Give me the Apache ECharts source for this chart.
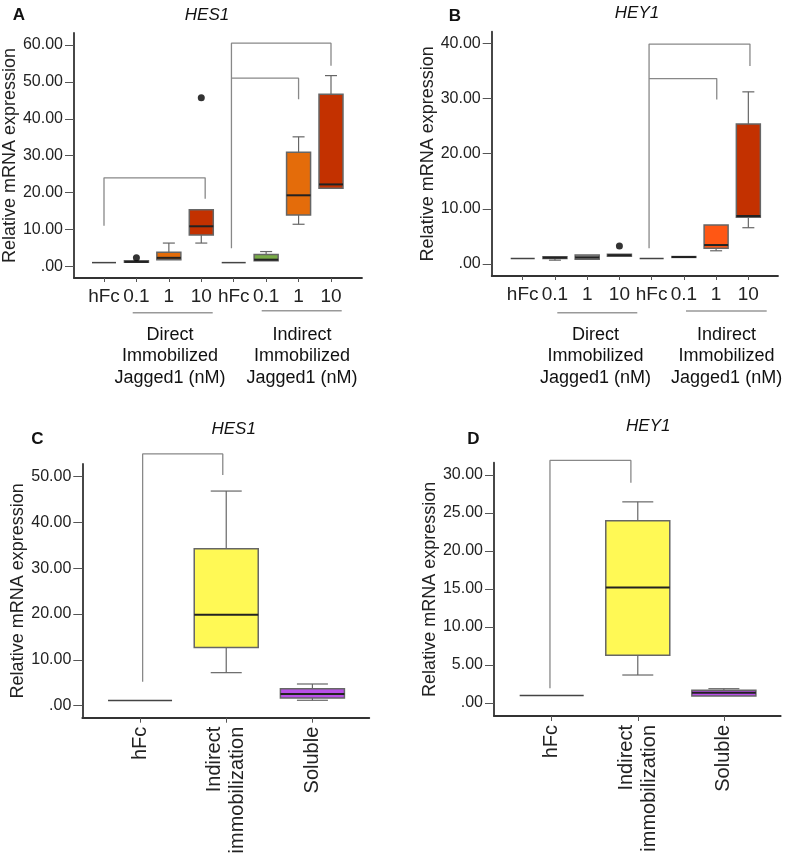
<!DOCTYPE html>
<html>
<head>
<meta charset="utf-8">
<script src="https://cdn.jsdelivr.net/npm/echarts@6/dist/echarts.min.js"></script>
<style>
html,body{margin:0;padding:0;background:#fff;}
#chart{width:787px;height:858px;}
</style>
</head>
<body>
<div id="chart"></div>
<script>
// ---------- DATA ----------
const catsAB = ['hFc', '0.1', '1', '10', 'hFc', '0.1', '1', '10'];
const catsCD = ['hFc', 'Indirect\nimmobilization', 'Soluble'];

// five-number summaries: [min, q1, median, q3, max]
const hes1A = [
  [1, 1, 1, 1, 1],
  [1.1, 1.1, 1.2, 1.5, 1.5],
  [1.8, 1.8, 2.3, 3.8, 6.3],
  [6.3, 8.5, 10.85, 15.35, 15.35],
  [1, 1, 1, 1, 1],
  [1.5, 1.5, 1.8, 3.2, 4.0],
  [11.4, 13.9, 19.25, 30.9, 35.1],
  [21.15, 21.15, 22.2, 46.65, 51.7]
];
const hey1B = [
  [1, 1, 1, 1, 1],
  [0.7, 1.0, 1.15, 1.3, 1.3],
  [0.85, 0.85, 1.2, 1.63, 1.63],
  [1.4, 1.4, 1.6, 1.75, 1.75],
  [1, 1, 1, 1, 1],
  [1.2, 1.2, 1.27, 1.35, 1.35],
  [2.4, 2.84, 3.44, 7.07, 7.07],
  [6.58, 8.46, 8.7, 25.36, 31.2]
];
const hes1C = [
  [1.15, 1.15, 1.15, 1.15, 1.15],
  [7.2, 12.7, 19.85, 34.2, 46.8],
  [1.18, 1.68, 2.55, 3.7, 4.73]
];
const hey1D = [
  [1, 1, 1, 1, 1],
  [3.68, 6.27, 15.2, 23.95, 26.45],
  [0.92, 0.92, 1.36, 1.67, 1.88]
];

// outliers: [category index, value]
const outliersA = [[1, 2.35], [3, 45.7]];
const outliersB = [[3, 3.26]];

// significance brackets: list of polyline points [category position, value]
const bracketsA = [
  [[0, 11.0], [0, 24.0], [3.12, 24.0], [3.12, 18.3]],
  [[3.93, 4.9], [3.93, 60.5], [7.0, 60.5], [7.0, 54.4]],
  [[3.93, 51.0], [6.0, 51.0], [6.0, 45.3]]
];
const bracketsB = [
  [[3.92, 2.84], [3.92, 39.85], [7.05, 39.85], [7.05, 35.9]],
  [[3.92, 33.6], [6.02, 33.6], [6.02, 29.8]]
];
const bracketsC = [
  [[0.03, 5.24], [0.03, 54.9], [0.96, 54.9], [0.96, 50.3]]
];
const bracketsD = [
  [[-0.02, 1.93], [-0.02, 31.9], [0.92, 31.9], [0.92, 28.95]]
];

// tick values
const yTicksA = [0, 10, 20, 30, 40, 50, 60];
const yTicksB = [0, 10, 20, 30, 40];
const yTicksC = [0, 10, 20, 30, 40, 50];
const yTicksD = [0, 5, 10, 15, 20, 25, 30];

// ---------- STYLE ----------
const colorsA = ['#555', '#888', '#E46C0A', '#C33100', '#555', '#78AB46', '#E46C0A', '#C33100'];
const colorsB = ['#555', '#999', '#999', '#999', '#555', '#999', '#FF5714', '#C33100'];
const colorsCD = ['#555', '#FFF955', '#B94FE8'];
const FONT = '"Liberation Sans", Arial, Helvetica, sans-serif';

function boxRender(colors, boxW, capW) {
  return function (params, api) {
    const x = api.value(0);
    const vmin = api.value(1), q1 = api.value(2), med = api.value(3), q3 = api.value(4), vmax = api.value(5);
    const pMin = api.coord([x, vmin]);
    const pQ1 = api.coord([x, q1]);
    const pMed = api.coord([x, med]);
    const pQ3 = api.coord([x, q3]);
    const pMax = api.coord([x, vmax]);
    const cx = pMed[0];
    const children = [];
    const wStyle = { stroke: '#666', lineWidth: 1.2 };
    if (vmax > q3) {
      children.push({ type: 'line', shape: { x1: cx, y1: pQ3[1], x2: cx, y2: pMax[1] }, style: wStyle });
      children.push({ type: 'line', shape: { x1: cx - capW / 2, y1: pMax[1], x2: cx + capW / 2, y2: pMax[1] }, style: wStyle });
    }
    if (vmin < q1) {
      children.push({ type: 'line', shape: { x1: cx, y1: pQ1[1], x2: cx, y2: pMin[1] }, style: wStyle });
      children.push({ type: 'line', shape: { x1: cx - capW / 2, y1: pMin[1], x2: cx + capW / 2, y2: pMin[1] }, style: wStyle });
    }
    const col = colors[params.dataIndex];
    if (q3 > q1) {
      children.push({
        type: 'rect',
        shape: { x: cx - boxW / 2, y: pQ3[1], width: boxW, height: pQ1[1] - pQ3[1] },
        style: { fill: col, stroke: '#666', lineWidth: 1.5 }
      });
      children.push({ type: 'line', shape: { x1: cx - boxW / 2, y1: pMed[1], x2: cx + boxW / 2, y2: pMed[1] }, style: { stroke: '#222', lineWidth: 2 } });
    } else {
      children.push({ type: 'line', shape: { x1: cx - boxW / 2, y1: pMed[1], x2: cx + boxW / 2, y2: pMed[1] }, style: { stroke: '#444', lineWidth: 1.5 } });
    }
    return { type: 'group', children: children };
  };
}

function toBoxData(arr) {
  return arr.map(function (d, i) { return [i].concat(d); });
}

function fmtY(v) { return v === 0 ? '.00' : v.toFixed(2); }

function yAxisDef(gi, min, max, ticks, nameGap) {
  return {
    type: 'value', gridIndex: gi, min: min, max: max,
    name: 'Relative mRNA expression', nameLocation: 'middle', nameRotate: 90, nameGap: nameGap,
    nameTextStyle: { fontFamily: FONT, fontSize: 18, color: '#222' },
    splitLine: { show: false },
    axisLine: { show: true, onZero: false, lineStyle: { color: '#333', width: 1.8 } },
    axisTick: { show: true, length: 9, customValues: ticks, lineStyle: { color: '#555', width: 1 } },
    axisLabel: { customValues: ticks, formatter: fmtY, margin: 11, fontFamily: FONT, fontSize: 16, color: '#222' }
  };
}

function xAxisDef(gi, min, max, cats, rotated) {
  const idx = cats.map(function (c, i) { return i; });
  return {
    type: 'value', gridIndex: gi, min: min, max: max,
    splitLine: { show: false },
    axisLine: { show: true, onZero: false, lineStyle: { color: '#333', width: 1.8 } },
    axisTick: { show: true, length: rotated ? 5 : 4, customValues: idx, lineStyle: { color: '#555', width: 1 } },
    axisLabel: {
      customValues: idx,
      formatter: function (v) { return cats[Math.round(v)]; },
      margin: 9, rotate: rotated ? 90 : 0,
      fontFamily: FONT, fontSize: rotated ? 20 : 19, color: '#222',
      lineHeight: rotated ? 23 : 20
    }
  };
}

function bracketSeries(brackets, gi) {
  return brackets.map(function (b) {
    return {
      type: 'line', xAxisIndex: gi, yAxisIndex: gi, data: b, symbol: 'none', silent: true, clip: false,
      lineStyle: { color: '#888', width: 1.3 }, z: 1, animation: false
    };
  });
}

function boxSeries(data, colors, gi, boxW, capW) {
  return {
    type: 'custom', xAxisIndex: gi, yAxisIndex: gi, data: toBoxData(data), clip: false,
    encode: { x: 0, y: [1, 2, 3, 4, 5] },
    renderItem: boxRender(colors, boxW, capW), z: 2, animation: false
  };
}

function outlierSeries(data, gi) {
  return {
    type: 'scatter', xAxisIndex: gi, yAxisIndex: gi, data: data,
    symbol: 'circle', symbolSize: 7, itemStyle: { color: '#000' }, z: 3, animation: false
  };
}

function txt(text, x, y, size, opts) {
  opts = opts || {};
  return {
    type: 'text', x: x, y: y,
    style: {
      text: text, fontFamily: FONT, fontSize: size, fill: '#111',
      fontWeight: opts.bold ? 'bold' : 'normal', fontStyle: opts.italic ? 'italic' : 'normal',
      align: 'center', verticalAlign: 'middle', lineHeight: opts.lh || size
    }
  };
}
function uline(x1, x2, y) {
  return { type: 'line', shape: { x1: x1, y1: y, x2: x2, y2: y }, style: { stroke: '#999', lineWidth: 1.5 } };
}

const chart = echarts.init(document.getElementById('chart'), null, { renderer: 'canvas' });
const option = {
  animation: false,
  backgroundColor: '#fff',
  grid: [
    { left: 74, top: 33, width: 288, height: 245 },
    { left: 491.7, top: 31.7, width: 286.3, height: 244.3 },
    { left: 82.3, top: 464, width: 287, height: 253.7 },
    { left: 494, top: 462.7, width: 286.7, height: 253.3 }
  ],
  xAxis: [
    xAxisDef(0, -0.925, 7.956, catsAB, false),
    xAxisDef(1, -0.962, 7.92, catsAB, false),
    xAxisDef(2, -0.67, 2.66, catsCD, true),
    xAxisDef(3, -0.67, 2.66, catsCD, true)
  ],
  yAxis: [
    yAxisDef(0, -3.17, 63.25, yTicksA, 53),
    yAxisDef(1, -2.17, 42.1, yTicksB, 47),
    yAxisDef(2, -2.62, 52.7, yTicksC, 50),
    yAxisDef(3, -1.71, 31.6, yTicksD, 54)
  ],
  series: [].concat(
    bracketSeries(bracketsA, 0),
    bracketSeries(bracketsB, 1),
    bracketSeries(bracketsC, 2),
    bracketSeries(bracketsD, 3),
    [
      boxSeries(hes1A, colorsA, 0, 24, 12),
      boxSeries(hey1B, colorsB, 1, 24, 12),
      boxSeries(hes1C, colorsCD, 2, 64, 31),
      boxSeries(hey1D, colorsCD, 3, 64, 31),
      outlierSeries(outliersA, 0),
      outlierSeries(outliersB, 1)
    ]
  ),
  graphic: [
    txt('A', 19, 15, 17, { bold: true }),
    txt('HES1', 207, 15, 17, { italic: true }),
    txt('B', 455, 16, 17, { bold: true }),
    txt('HEY1', 637, 13, 17, { italic: true }),
    txt('C', 37.5, 439, 17, { bold: true }),
    txt('HES1', 233.7, 429, 17, { italic: true }),
    txt('D', 473.3, 439, 17, { bold: true }),
    txt('HEY1', 648.3, 426, 17, { italic: true }),
    uline(132.7, 212.7, 312.7),
    uline(261.7, 341.7, 310.7),
    uline(557.3, 637.3, 312.7),
    uline(686, 766.7, 311),
    txt('Direct\nImmobilized\nJagged1 (nM)', 170, 356.5, 18, { lh: 21.5 }),
    txt('Indirect\nImmobilized\nJagged1 (nM)', 302, 356.5, 18, { lh: 21.5 }),
    txt('Direct\nImmobilized\nJagged1 (nM)', 595.5, 356.5, 18, { lh: 21.5 }),
    txt('Indirect\nImmobilized\nJagged1 (nM)', 726.6, 356.5, 18, { lh: 21.5 })
  ]
};
chart.setOption(option);
</script>
</body>
</html>
